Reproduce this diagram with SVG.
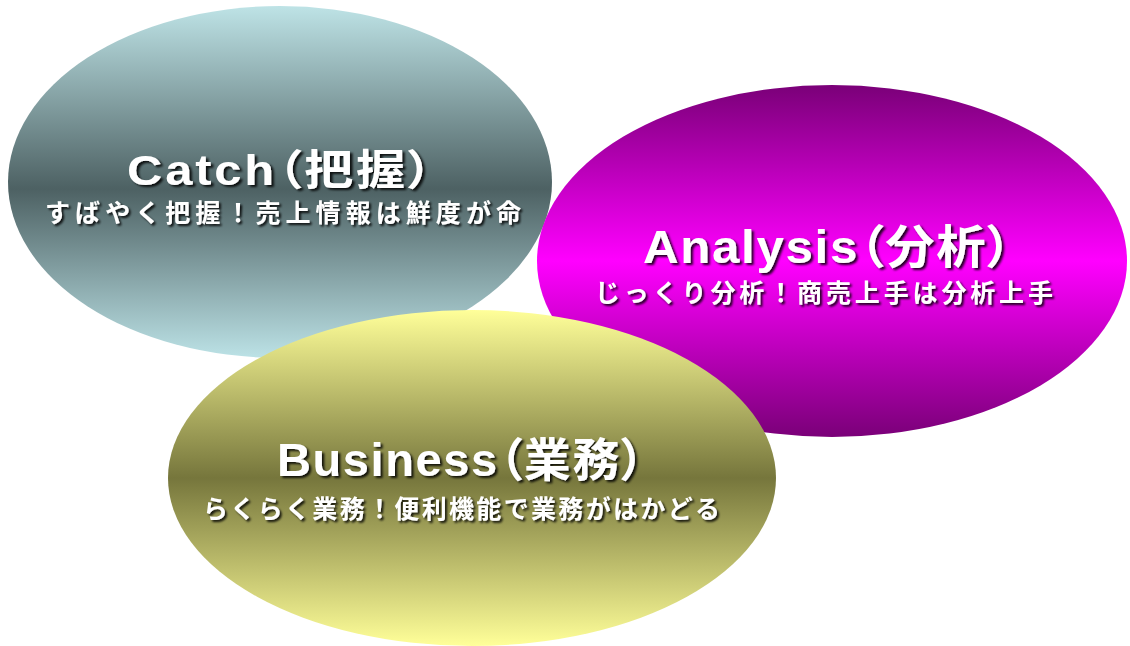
<svg xmlns="http://www.w3.org/2000/svg" width="1130" height="646" viewBox="0 0 1130 646">
<defs>
<linearGradient id="gC" x1="0" y1="0" x2="0" y2="1">
<stop offset="0" stop-color="#bee3e6"/>
<stop offset="0.52" stop-color="#4d6163"/>
<stop offset="1" stop-color="#bce2e6"/>
</linearGradient>
<linearGradient id="gA" x1="0" y1="0" x2="0" y2="1">
<stop offset="0" stop-color="#7a0078"/>
<stop offset="0.5" stop-color="#ff00ff"/>
<stop offset="1" stop-color="#7a0078"/>
</linearGradient>
<linearGradient id="gB" x1="0" y1="0" x2="0" y2="1">
<stop offset="0" stop-color="#ffff99"/>
<stop offset="0.5" stop-color="#76763c"/>
<stop offset="1" stop-color="#ffff99"/>
</linearGradient>
<filter id="sh" x="-10%" y="-30%" width="120%" height="160%">
<feDropShadow dx="2" dy="2" stdDeviation="0.8" flood-color="#000" flood-opacity="0.85"/>
</filter>
</defs>
<style>
.t{font-weight:bold;fill:#fff;filter:url(#sh)}
.h{font-family:"Liberation Sans","Noto Sans CJK JP",sans-serif;font-size:46px;font-feature-settings:"palt";letter-spacing:1.5px}
.s{font-family:"Noto Sans CJK JP","Liberation Sans",sans-serif;font-size:25px}
</style>
<rect width="1130" height="646" fill="#fff"/>
<g id="catch">
<ellipse cx="280" cy="182" rx="272" ry="176" fill="url(#gC)"/>
<text class="t h" x="0" y="0" transform="translate(127 185) scale(1.3 1)" textLength="237" lengthAdjust="spacingAndGlyphs" style="font-size:42px;letter-spacing:2.4px">Catch（把握）</text>
<text class="t s" x="45" y="222" textLength="476" lengthAdjust="spacing">すばやく把握！売上情報は鮮度が命</text>
</g>
<g id="analysis">
<ellipse cx="832" cy="261" rx="295" ry="176" fill="url(#gA)"/>
<text class="t h" x="0" y="0" transform="translate(643 263) scale(1.18 1)" textLength="314" lengthAdjust="spacingAndGlyphs">Analysis（分析）</text>
<text class="t s" x="595" y="302" textLength="458" lengthAdjust="spacing">じっくり分析！商売上手は分析上手</text>
</g>
<g id="business">
<ellipse cx="472" cy="478" rx="304" ry="168" fill="url(#gB)"/>
<text class="t h" x="0" y="0" transform="translate(277 476) scale(1.15 1)" textLength="321" lengthAdjust="spacingAndGlyphs">Business（業務）</text>
<text class="t s" x="203" y="518" textLength="517" lengthAdjust="spacing">らくらく業務！便利機能で業務がはかどる</text>
</g>
<g id="connectors"/>
</svg>
